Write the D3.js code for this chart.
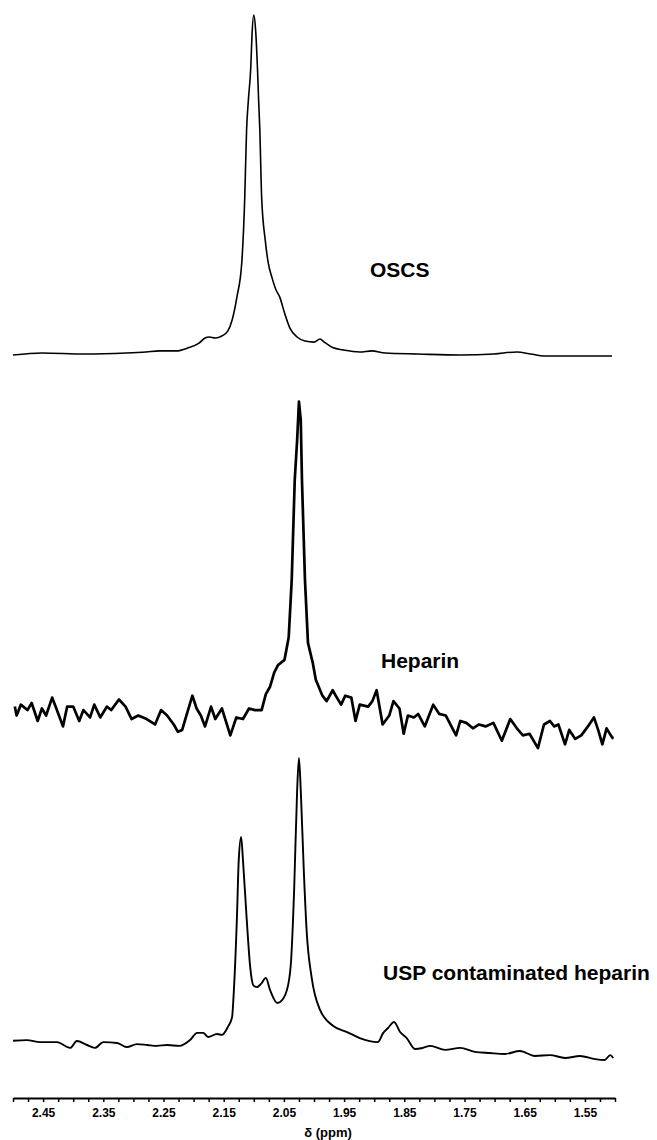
<!DOCTYPE html>
<html>
<head>
<meta charset="utf-8">
<script src="https://cdn.jsdelivr.net/npm/d3@7"></script>
<style>
  body { margin: 0; background: #fff; }
  text { font-family: "Liberation Sans", Arial, sans-serif; font-weight: bold; fill: #000; }
</style>
</head>
<body>
<div id="chart"></div>
<script>
// chemical shift (ppm) and relative intensity (0-100 per trace)
var oscsPpm = [2.500, 2.452, 2.382, 2.312, 2.279, 2.257, 2.229, 2.209, 2.191, 2.181, 2.174, 2.164, 2.153, 2.143,
  2.136, 2.128, 2.120, 2.115, 2.112, 2.109, 2.105, 2.103, 2.100, 2.097, 2.094, 2.092, 2.090, 2.087, 2.081,
  2.076, 2.070, 2.063, 2.057, 2.049, 2.040, 2.028, 2.015, 2.000, 1.990, 1.983, 1.968, 1.952, 1.924, 1.904,
  1.882, 1.827, 1.757, 1.701, 1.663, 1.640, 1.618, 1.548, 1.505];
var oscsInt = [0, 0.6, 0.3, 0.6, 0.9, 1.2, 1.2, 2.1, 3.5, 5.0, 5.3, 5.0, 5.6, 7.1,
  10.3, 17.1, 27.1, 46.5, 66.2, 75, 84.7, 94, 100, 95.6, 84.7, 75, 66.2, 46.5, 33.8,
  27.1, 22.9, 19.1, 17.1, 12.4, 7.9, 5.3, 4.1, 3.8, 4.7, 3.8, 2.1, 1.5, 0.9, 1.2,
  0.6, 0.3, 0, 0.3, 0.9, 0.3, -0.3, -0.3, -0.3];

var heparinPpm = [2.497, 2.494, 2.487, 2.476, 2.469, 2.459, 2.452, 2.445, 2.435, 2.428, 2.417, 2.410, 2.400,
  2.390, 2.383, 2.372, 2.365, 2.355, 2.344, 2.337, 2.324, 2.313, 2.303, 2.292, 2.278, 2.264, 2.254, 2.244,
  2.233, 2.226, 2.219, 2.212, 2.202, 2.195, 2.188, 2.181, 2.171, 2.164, 2.153, 2.139, 2.129, 2.118, 2.108,
  2.098, 2.087, 2.080, 2.073, 2.066, 2.060, 2.049, 2.045, 2.042, 2.037, 2.032, 2.028, 2.025, 2.022, 2.020,
  2.015, 2.010, 2.002, 1.997, 1.986, 1.979, 1.969, 1.962, 1.955, 1.948, 1.938, 1.931, 1.924, 1.910, 1.903,
  1.896, 1.886, 1.875, 1.868, 1.858, 1.851, 1.844, 1.834, 1.827, 1.816, 1.802, 1.792, 1.781, 1.764, 1.757,
  1.747, 1.736, 1.726, 1.715, 1.702, 1.688, 1.674, 1.663, 1.653, 1.642, 1.628, 1.618, 1.608, 1.601, 1.594,
  1.583, 1.576, 1.566, 1.556, 1.545, 1.535, 1.528, 1.521, 1.514, 1.507, 1.503];
var heparinInt = [4.2, 1.4, 4.8, 3.1, 5.3, -0.3, 3.6, 1.4, 7.0, 3.6, -2.0, 4.2, 4.2,
  -0.3, 3.1, 0.8, 4.8, 0.8, 4.2, 3.1, 6.4, 4.2, 0.3, 1.4, 0.3, -1.4, 3.1, 1.4,
  -1.4, -3.7, -3.1, 1.4, 7.6, 3.6, 1.4, -2.0, 4.2, 0.3, 3.6, -4.8, 0.8, 0.3, 3.6,
  3.1, 3.1, 8.1, 10.4, 14.9, 17.1, 18.8, 22.8, 25.9, 43.8, 75, 87.5, 99.5, 93.8, 75,
  43.8, 24.1, 17.8, 12.6, 7.6, 5.9, 9.3, 7.0, 4.8, 7.6, 7.0, -0.3, 4.8, 4.2, 5.9,
  9.3, -1.4, 1.4, 5.9, 3.6, -4.3, 1.4, 0.8, 1.9, -2.0, 4.8, 1.9, 1.4, -4.8, -0.3,
  -0.9, -2.6, -1.4, -2.0, -0.9, -6.5, 0.3, -2.6, -4.8, -4.3, -8.8, -1.4, -0.3, -2.0, -1.4,
  -7.6, -3.1, -5.9, -4.8, -2.0, 0.8, -3.1, -7.6, -2.6, -4.8, -5.9];

var uspPpm = [2.500, 2.477, 2.455, 2.427, 2.405, 2.394, 2.377, 2.364, 2.350, 2.327, 2.311, 2.294, 2.277,
  2.261, 2.244, 2.223, 2.206, 2.194, 2.184, 2.176, 2.161, 2.153, 2.143, 2.136, 2.134, 2.128, 2.125, 2.121,
  2.118, 2.112, 2.106, 2.101, 2.095, 2.088, 2.080, 2.073, 2.061, 2.053, 2.043, 2.038, 2.033, 2.028, 2.025,
  2.022, 2.017, 2.012, 2.004, 1.990, 1.968, 1.945, 1.924, 1.894, 1.885, 1.877, 1.867, 1.857, 1.846, 1.832,
  1.819, 1.807, 1.782, 1.757, 1.733, 1.708, 1.683, 1.658, 1.633, 1.608, 1.583, 1.558, 1.533, 1.517, 1.508, 1.503];
var uspInt = [1.5, 1.7, 1.0, 1.0, -1.0, 1.4, 0, -1.0, 1.0, 0.7, -0.7, 0.3, 0,
  -0.3, 0, -0.3, 1.7, 4.2, 4.2, 2.8, 3.8, 3.5, 6.3, 9.7, 15.6, 44.4, 64.2, 72.2,
  64.2, 44.4, 27.1, 20.8, 20.1, 21.2, 23.3, 19.1, 14.6, 15.6, 20.8, 29.5, 53.8, 88.5, 99.7,
  88.5, 60.8, 38.9, 23.6, 12.2, 6.6, 4.5, 2.4, 1.0, 4.2, 5.9, 8.0, 4.5, 2.4, -1.4,
  -1.0, -0.3, -1.7, -1.0, -2.4, -2.8, -3.1, -2.1, -3.8, -3.5, -4.5, -3.8, -4.9, -5.2, -3.5, -4.5];

var tickLabels = ["2.45", "2.35", "2.25", "2.15", "2.05", "1.95", "1.85", "1.75", "1.65", "1.55"];
var traceNames = ["OSCS", "Heparin", "USP contaminated heparin"];

var width = 657;
var height = 1140;

var svg = d3.select("#chart")
  .append("svg")
  .attr("width", width)
  .attr("height", height);

// shared chemical-shift axis, high ppm on the left
var x = d3.scaleLinear()
  .domain([2.5, 1.5])
  .range([13, 615]);

// one intensity scale per trace (baseline -> 0, tallest peak -> 100)
var yOscs = d3.scaleLinear().domain([0, 100]).range([355, 15]);
var yHep = d3.scaleLinear().domain([0, 100]).range([720, 400]);
var yUsp = d3.scaleLinear().domain([0, 100]).range([1045, 757]);

function drawTrace(ppm, vals, y, curve, sw) {
  var pts = ppm.map(function(p, i) { return [p, vals[i]]; });
  var line = d3.line()
    .x(function(d) { return x(d[0]); })
    .y(function(d) { return y(d[1]); })
    .curve(curve);
  svg.append("path")
    .datum(pts)
    .attr("d", line)
    .attr("fill", "none")
    .attr("stroke", "#000")
    .attr("stroke-width", sw)
    .attr("stroke-linejoin", "round");
}

drawTrace(oscsPpm, oscsInt, yOscs, d3.curveMonotoneX, 1.6);
drawTrace(heparinPpm, heparinInt, yHep, d3.curveLinear, 2.7);
drawTrace(uspPpm, uspInt, yUsp, d3.curveMonotoneX, 1.9);

// trace labels
var labelPos = [[370, 277], [381, 668], [383, 980]];
svg.selectAll(".trace-label")
  .data(traceNames)
  .enter()
  .append("text")
  .attr("class", "trace-label")
  .attr("x", function(d, i) { return labelPos[i][0]; })
  .attr("y", function(d, i) { return labelPos[i][1]; })
  .style("font-size", "21px")
  .text(function(d) { return d; });

// x axis: small ticks every 0.025 ppm, labels on the x.x5 values
var tickVals = d3.range(0, 41).map(function(i) { return +(2.5 - i * 0.025).toFixed(3); });
var xAxis = d3.axisBottom(x)
  .tickValues(tickVals)
  .tickSize(4)
  .tickSizeOuter(0)
  .tickPadding(6)
  .tickFormat(function(d) {
    var s = d.toFixed(2);
    return tickLabels.indexOf(s) >= 0 ? s : "";
  });

var gx = svg.append("g")
  .attr("transform", "translate(0,1098)")
  .call(xAxis);
gx.select(".domain").attr("stroke-width", 2);
gx.selectAll(".tick line").attr("stroke-width", 1.5);
gx.selectAll(".tick text")
  .style("font-size", "12px")
  .style("font-weight", "bold")
  .style("font-family", "'Liberation Sans', Arial, sans-serif");

svg.append("text")
  .attr("x", 328)
  .attr("y", 1137)
  .attr("text-anchor", "middle")
  .style("font-size", "13px")
  .text("δ (ppm)");
</script>
</body>
</html>
